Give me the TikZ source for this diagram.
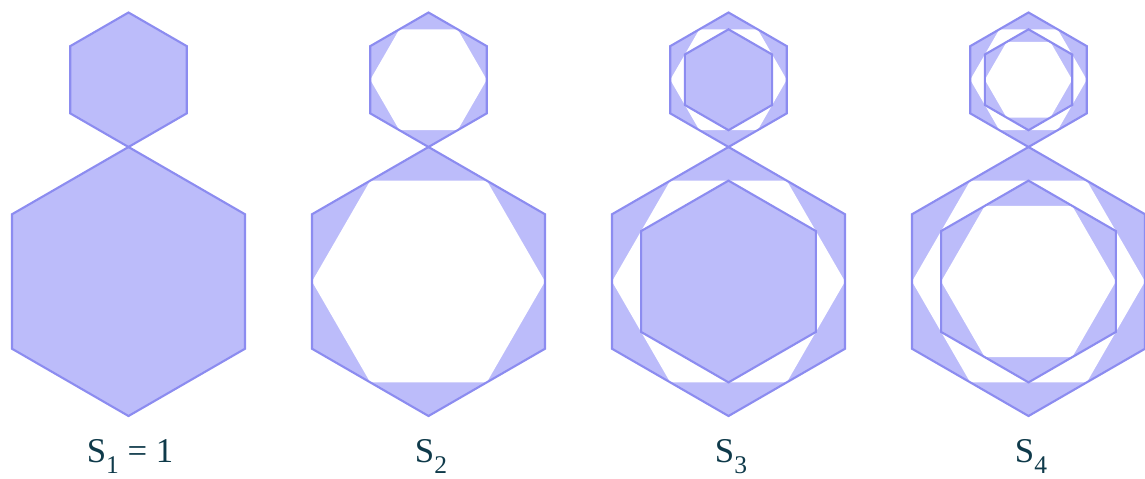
\documentclass[tikz,border=0pt]{standalone}
\usepackage{fontspec}
\setmainfont{Liberation Serif}
\definecolor{hxInk}{HTML}{0F3A4A}
\definecolor{hxFill}{HTML}{BCBCFA}
\definecolor{hxLine}{HTML}{8C8CF0}

% hexagon: style, centre, radius, angle of first corner
\newcommand{\hexshape}[4]{%
  \path[#1,shift={(#2)}]
    (#4:#3) -- (#4+60:#3) -- (#4+120:#3)
    -- (#4+180:#3) -- (#4+240:#3) -- (#4+300:#3) -- cycle;}
% low subscript of the labels
\newcommand{\lowsub}[1]{\raisebox{-0.32em}{\fontsize{14.5}{16}\selectfont #1}}

\begin{document}
\begin{tikzpicture}[
  x=0.02cm,y=0.02cm,
  every node/.style={
    text=hxInk,inner sep=0pt,outer sep=0pt
  },
  solidpart/.style={
    fill=hxFill,draw=none
  },
  hole/.style={
    fill=white,draw=none
  },
  rim/.style={
    draw=hxLine,line width=1.2pt,line join=miter
  },
  caption/.style={
    anchor=base,
    font=\fontsize{19.8}{24}\selectfont
  }
]
\path[use as bounding box] (0,0) rectangle (1145,478);

% Four stages, big hexagon below and small one on top
\foreach \fig/\cx in {1/128.5,2/428.5,3/728.5,4/1028.5}{
  \foreach \cy/\r in {196.5/134.5,398.25/67.25}{
    \hexshape{solidpart}{\cx,\cy}{\r}{90}
    \ifnum\fig>1 \hexshape{hole}{\cx,\cy}{\r*0.8660254}{0}\fi
    \ifnum\fig>2 \hexshape{solidpart}{\cx,\cy}{\r*0.75}{90}\fi
    \ifnum\fig>3 \hexshape{hole}{\cx,\cy}{\r*0.6495191}{0}\fi
    \hexshape{rim}{\cx,\cy}{\r}{90}
    \ifnum\fig>2 \hexshape{rim}{\cx,\cy}{\r*0.75}{90}\fi
  }
}

% Stage labels
\node[caption] (lab1) at (130,16) {S\lowsub{1} = 1};

\node[caption] (lab2) at (431,16) {S\lowsub{2}};

\node[caption] (lab3) at (731,16) {S\lowsub{3}};

\node[caption] (lab4) at (1031,16) {S\lowsub{4}};

\end{tikzpicture}
\end{document}
